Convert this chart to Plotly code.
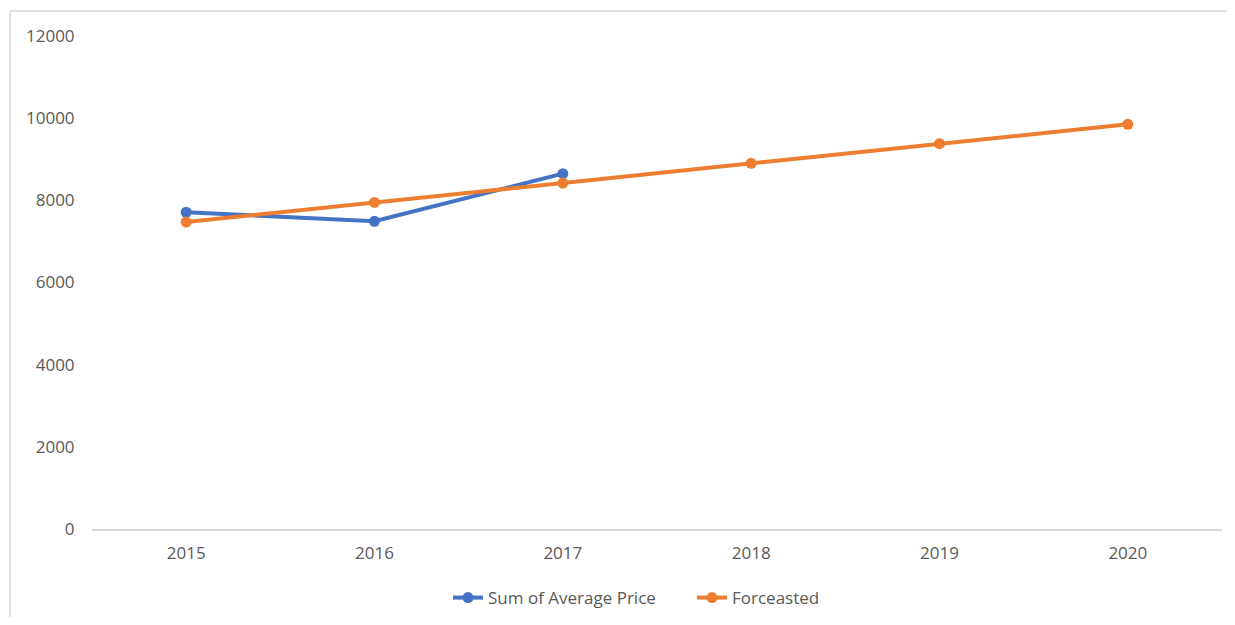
import plotly.graph_objects as go

years = ["2015", "2016", "2017", "2018", "2019", "2020"]
actual_years = ["2015", "2016", "2017"]
actual_values = [7710, 7490, 8650]
forecast_values = [7470, 7950, 8420, 8900, 9380, 9850]
y_ticks = [0, 2000, 4000, 6000, 8000, 10000, 12000]
y_tick_labels = [str(v) for v in y_ticks]

BLUE = "#4472C4"
ORANGE = "#ED7D31"
GRAY = "#595959"

fig = go.Figure()
fig.add_trace(go.Scatter(
    x=actual_years, y=actual_values, name="Sum of Average Price",
    mode="lines+markers",
    line=dict(color=BLUE, width=4),
    marker=dict(color=BLUE, size=11),
))
fig.add_trace(go.Scatter(
    x=years, y=forecast_values, name="Forceasted",
    mode="lines+markers",
    line=dict(color=ORANGE, width=4),
    marker=dict(color=ORANGE, size=11),
))

fig.update_layout(
    width=1219, height=609,
    margin=dict(l=84, r=5, t=28, b=88, autoexpand=False),
    paper_bgcolor="white", plot_bgcolor="white",
    font=dict(family="Open Sans", size=17, color=GRAY),
    showlegend=True,
    legend=dict(orientation="h", x=0.531, xanchor="center", y=-0.140, yanchor="middle",
                font=dict(size=17, color=GRAY), entrywidth=199, entrywidthmode="pixels",
                tracegroupgap=0),
    xaxis=dict(type="category", categoryorder="array", categoryarray=years,
               range=[-0.5, 5.5], showgrid=False, showline=True, automargin=False,
               linecolor="#D9D9D9", linewidth=1.5, zeroline=False,
               ticks="outside", ticklen=8, tickcolor="rgba(0,0,0,0)",
               tickfont=dict(size=17, color=GRAY)),
    yaxis=dict(range=[0, 12000], tickvals=y_ticks, ticktext=y_tick_labels,
               showgrid=False, automargin=False,
               showline=False, zeroline=False,
               ticks="outside", ticklen=13, tickcolor="rgba(0,0,0,0)",
               tickfont=dict(size=17, color=GRAY)),
    shapes=[
        dict(type="line", xref="paper", yref="paper",
             x0=-0.0726, x1=1.02, y0=1.0507, y1=1.0507,
             line=dict(color="#D9D9D9", width=1.5)),
        dict(type="line", xref="paper", yref="paper",
             x0=-0.0726, x1=-0.0726, y0=1.0507, y1=-0.2,
             line=dict(color="#D9D9D9", width=1.5)),
    ],
)

fig.write_html("out.html")
